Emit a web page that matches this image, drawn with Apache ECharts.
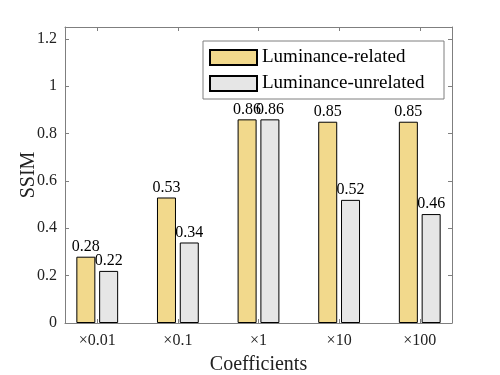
<!DOCTYPE html>
<html><head><meta charset="utf-8">
<script src="https://cdn.jsdelivr.net/npm/echarts@6/dist/echarts.min.js"></script>
<style>html,body{margin:0;padding:0;background:#fff}#c{width:500px;height:375px}</style>
</head><body><div id="c"></div>
<script>
const categories = ['×0.01', '×0.1', '×1', '×10', '×100'];
const positions = [1, 2, 3, 4, 5];
const relatedValues = [0.28, 0.53, 0.86, 0.85, 0.85];
const unrelatedValues = [0.22, 0.34, 0.86, 0.52, 0.46];
const yTicks = [0, 0.2, 0.4, 0.6, 0.8, 1, 1.2];
const seriesNames = ['Luminance-related', 'Luminance-unrelated'];

const font = 'Liberation Serif, Times New Roman, serif';
const axisGray = '#7f7f7f';
const chart = echarts.init(document.getElementById('c'));
const lbl = v => Number(v.toFixed(2)).toString();
function xAxisCfg(pos, show) {
  return {
    type: 'value', position: pos, min: 0.6, max: 5.4,
    axisLine: {show: true, onZero: false, lineStyle: {color: axisGray, width: 1}},
    axisTick: {show: true, inside: true, length: 4, customValues: positions, lineStyle: {color: axisGray}},
    axisLabel: show ? {show: true, customValues: positions, margin: 10, fontFamily: font, fontSize: 16, color: '#222',
      formatter: v => categories[Math.round(v) - 1]} : {show: false},
    splitLine: {show: false},
    name: show ? 'Coefficients' : '', nameLocation: 'middle', nameGap: 32, nameMoveOverlap: false,
    nameTextStyle: {fontFamily: font, fontSize: 20, color: '#222'}
  };
}
function yAxisCfg(pos, show) {
  return {
    type: 'value', position: pos, min: 0, max: 1.25,
    axisLine: {show: true, lineStyle: {color: axisGray, width: 1}},
    axisTick: {show: true, inside: true, length: 4, customValues: yTicks, lineStyle: {color: axisGray}},
    axisLabel: show ? {show: true, customValues: yTicks, margin: 8, fontFamily: font, fontSize: 16, color: '#222', formatter: lbl} : {show: false},
    splitLine: {show: false},
    name: show ? 'SSIM' : '', nameLocation: 'middle', nameGap: 26, nameRotate: 90, nameMoveOverlap: false,
    nameTextStyle: {fontFamily: font, fontSize: 20, color: '#222'}
  };
}
const mk = vals => vals.map((v, i) => [positions[i], v]);
const labelCfg = {show: true, position: 'top', distance: 2, fontFamily: font, fontSize: 16, color: '#000', formatter: p => lbl(p.value[1])};
chart.setOption({
  animation: false,
  grid: {left: 65, right: 48, top: 27, bottom: 52, containLabel: false, outerBoundsMode: 'none'},
  xAxis: [xAxisCfg('bottom', true), xAxisCfg('top', false)],
  yAxis: [yAxisCfg('left', true), yAxisCfg('right', false)],
  legend: {
    orient: 'vertical', left: 203, top: 41, padding: [7, 7, 6, 6],
    itemWidth: 47, itemHeight: 15, itemGap: 7,
    backgroundColor: '#fff', borderColor: axisGray, borderWidth: 1,
    textStyle: {fontFamily: font, fontSize: 19, color: '#000', width: 175, lineHeight: 15},
    data: seriesNames.map(n => ({name: n, icon: 'rect'}))
  },
  series: [
    {name: seriesNames[0], type: 'bar', data: mk(relatedValues), barWidth: 19, barGap: '20%',
     itemStyle: {color: '#F2D98C', borderColor: '#000', borderWidth: 1}, label: labelCfg},
    {name: seriesNames[1], type: 'bar', data: mk(unrelatedValues), barWidth: 19, barGap: '20%',
     itemStyle: {color: '#E6E6E6', borderColor: '#000', borderWidth: 1}, label: labelCfg}
  ]
});
</script></body></html>
